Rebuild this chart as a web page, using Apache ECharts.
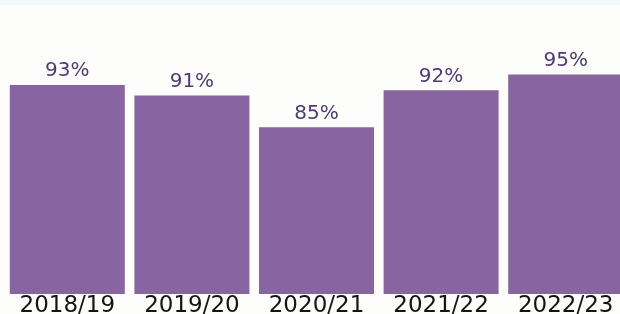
<!DOCTYPE html>
<html>
<head>
<meta charset="utf-8">
<script src="https://cdn.jsdelivr.net/npm/echarts@6/dist/echarts.min.js"></script>
<style>
  html, body { margin: 0; padding: 0; background: #fdfdfb; }
  #main { width: 620px; height: 314px; }
</style>
</head>
<body>
<div id="main"></div>
<script>
var years = ['2018/19', '2019/20', '2020/21', '2021/22', '2022/23'],
    rates = [93, 91, 85, 92, 95];

var chart = echarts.init(document.getElementById('main')),
    option = {
        backgroundColor: '#fdfdfb',
        animation: false,
        graphic: [
            // thin pale strip along the top edge
            { type: 'rect', left: 0, top: 0, shape: { width: 620, height: 5 }, style: { fill: '#eefbfa' } }
        ],
        grid: { left: 5, right: -8, top: 48, bottom: 20, outerBoundsMode: 'none', containLabel: false },
        xAxis: {
            type: 'category',
            data: years,
            axisLine: { show: false },
            axisTick: { show: false },
            axisLabel: {
                interval: 0,
                hideOverlap: false,
                margin: 1,
                color: '#141414',
                fontSize: 23,
                fontFamily: 'DejaVu Sans'
            }
        },
        yAxis: {
            type: 'value',
            min: 53.5,
            max: 100,
            show: false,
            splitLine: { show: false }
        },
        series: [{
            type: 'bar',
            data: rates,
            barWidth: 115,
            itemStyle: { color: '#8865a0' },
            label: {
                show: true,
                position: 'top',
                distance: 4,
                formatter: '{c}%',
                color: '#4e3a76',
                fontSize: 20,
                fontFamily: 'DejaVu Sans'
            }
        }]
    };

chart.setOption(option);
</script>
</body>
</html>
